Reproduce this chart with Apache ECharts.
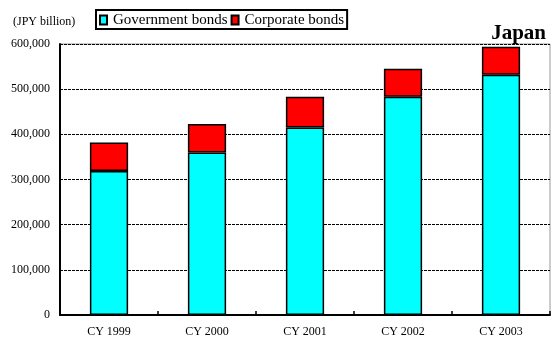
<!DOCTYPE html>
<html>
<head>
<meta charset="utf-8">
<script src="https://cdn.jsdelivr.net/npm/echarts@6/dist/echarts.min.js"></script>
<style>
  html, body { margin: 0; padding: 0; background: #fff; }
  #chart { width: 552px; height: 340px; }
</style>
</head>
<body>
<div id="chart"></div>
<script>
// Outstanding bonds, Japan (JPY billion)
const years = ['CY 1999', 'CY 2000', 'CY 2001', 'CY 2002', 'CY 2003'];
const governmentBonds = [319000, 360000, 415000, 483000, 532000];
const corporateBonds = [63000, 63000, 68000, 62000, 62000];
const yTicks = [0, 100000, 200000, 300000, 400000, 500000, 600000];

const serif = '"Liberation Serif", "Times New Roman", serif';
const fmt = v => v === 0 ? '0' : v.toLocaleString('en-US');

const chart = echarts.init(document.getElementById('chart'));
chart.setOption({
  animation: false,
  backgroundColor: '#fff',
  grid: { left: 60, right: 2, top: 44, bottom: 25, show: true, borderColor: '#999', borderWidth: 1 },
  title: [
    { text: '(JPY billion)', left: 8, top: 11,
      textStyle: { fontFamily: serif, fontSize: 12, fontWeight: 'normal', color: '#000' } },
    { text: 'Japan', right: 1, top: 18,
      textStyle: { fontFamily: serif, fontSize: 21, fontWeight: 'bold', color: '#000' } }
  ],
  legend: {
    left: 96, top: 10, padding: [2, 3, 1, 3],
    borderColor: '#000', borderWidth: 2,
    icon: 'rect', itemWidth: 7, itemHeight: 9, itemGap: 3,
    textStyle: { fontFamily: serif, fontSize: 15, color: '#000', padding: [0, 0, 0, 1], lineHeight: 16 },
    data: ['Government bonds', 'Corporate bonds']
  },
  xAxis: {
    type: 'category', data: years,
    axisLine: { lineStyle: { color: '#000', width: 2 } },
    axisTick: { show: true, inside: true, length: 4, lineStyle: { color: '#000', width: 1.5 } },
    axisLabel: { fontFamily: serif, fontSize: 12, color: '#000', margin: 11 }
  },
  yAxis: {
    type: 'value', min: 0, max: 600000, interval: 100000,
    axisLine: { show: true, lineStyle: { color: '#000', width: 2 } },
    axisTick: { show: false },
    axisLabel: { fontFamily: serif, fontSize: 12, color: '#000', margin: 10,
      formatter: v => yTicks.includes(v) ? fmt(v) : '' },
    splitLine: { lineStyle: { color: '#000', type: [3, 1], width: 1 } }
  },
  series: [
    { name: 'Government bonds', type: 'bar', stack: 'total', data: governmentBonds, barWidth: '39%',
      itemStyle: { color: '#00ffff', borderColor: '#000', borderWidth: 1.5 } },
    { name: 'Corporate bonds', type: 'bar', stack: 'total', data: corporateBonds, barWidth: '39%',
      itemStyle: { color: '#ff0000', borderColor: '#000', borderWidth: 1.5 } }
  ]
});
</script>
</body>
</html>
